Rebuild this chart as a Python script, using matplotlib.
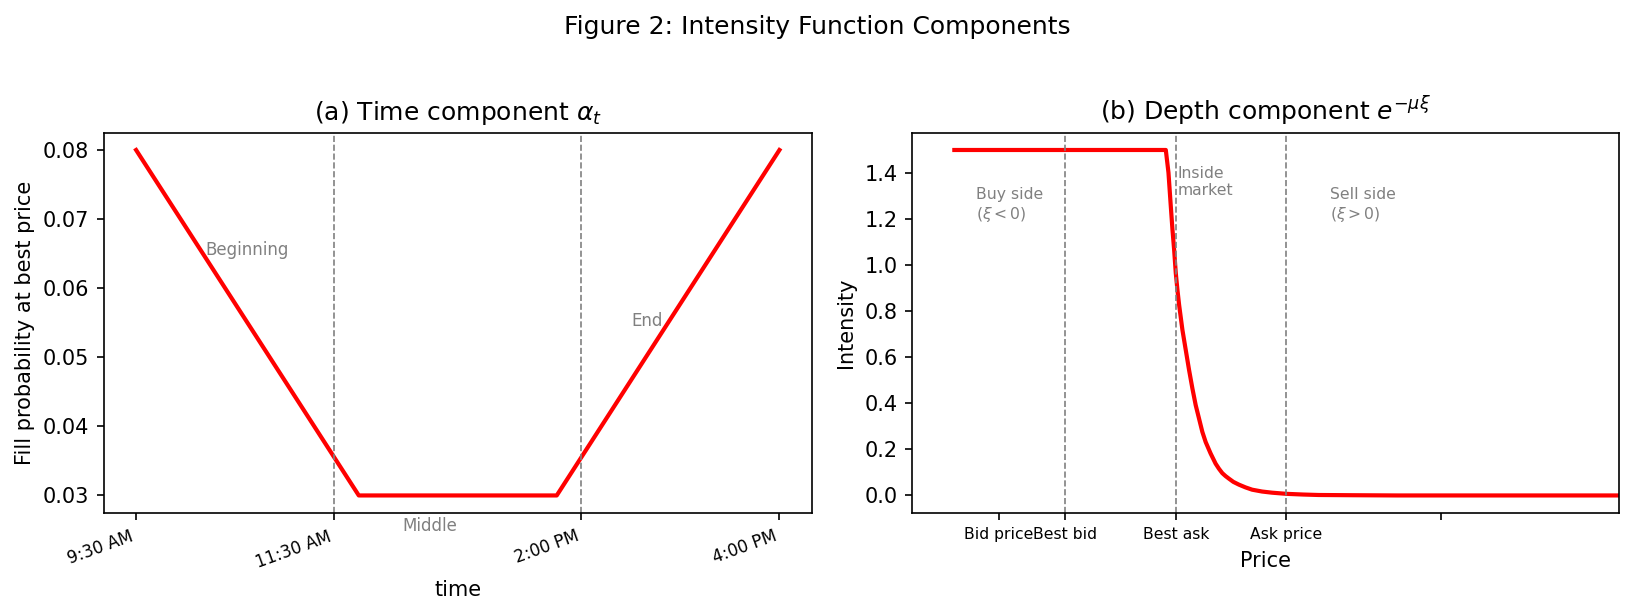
import matplotlib.pyplot as plt

# (a) time component, hours of the trading day
time_h = [9.5, 11.75, 13.75, 16.0]
alpha = [0.08, 0.03, 0.03, 0.08]
time_ticks = [9.5, 11.5, 14.0, 16.0]
time_labels = ["9:30 AM", "11:30 AM", "2:00 PM", "4:00 PM"]
time_splits = [11.5, 14.0]

# (b) depth component, price offset from best ask
price = [-2.0, -0.09, -0.066, -0.045, -0.03, -0.015, 0.0, 0.015, 0.03, 0.06, 0.09,
         0.12, 0.15, 0.18, 0.21, 0.24, 0.27, 0.315, 0.36, 0.39, 0.42, 0.45, 0.48, 0.52,
         0.57, 0.63, 0.69, 0.78, 0.87, 1.0, 1.15, 1.29, 1.6, 2.0, 4.0]
intensity = [1.5, 1.5, 1.402, 1.256, 1.155, 1.068, 0.966, 0.893, 0.828, 0.719, 0.632,
             0.545, 0.465, 0.392, 0.334, 0.276, 0.232, 0.182, 0.138, 0.116, 0.097, 0.084,
             0.073, 0.059, 0.047, 0.035, 0.025, 0.017, 0.012, 0.007, 0.004, 0.002,
             0.001, 0.0, 0.0]
price_ticks = [-1.6, -1.0, 0.0, 1.0, 2.4]
price_labels = ["Bid price", "Best bid", "Best ask", "Ask price", ""]
price_splits = [-1.0, 0.0, 1.0]

fig = plt.figure(figsize=(1634 / 150, 615 / 150), dpi=150)
fig.suptitle("Figure 2: Intensity Function Components", y=0.975)

ax1 = fig.add_axes([0.0636, 0.1663, 0.4331, 0.6179])
ax1.plot(time_h, alpha, color="red", lw=2)
for t in time_splits:
    ax1.axvline(t, color="gray", ls="--", lw=0.8)
ax1.text(10.2, 0.0655, "Beginning", color="gray", fontsize=8, va="center")
ax1.text(12.47, 0.0256, "Middle", color="gray", fontsize=8, va="center", ha="center")
ax1.text(14.5, 0.0553, "End", color="gray", fontsize=8, va="center")
ax1.set_xticks(time_ticks)
ax1.set_xticklabels(time_labels, rotation=20, ha="right", fontsize=8)
ax1.set_xlabel("time")
ax1.set_ylabel("Fill probability at best price")
ax1.set_title(r"(a) Time component $\alpha_t$")

ax2 = fig.add_axes([0.5583, 0.1663, 0.4323, 0.6179])
ax2.plot(price, intensity, color="red", lw=2)
for p in price_splits:
    ax2.axvline(p, color="gray", ls="--", lw=0.8)
ax2.text(-1.8, 1.26, "Buy side\n" + r"($\xi < 0$)", color="gray", fontsize=7.5, va="center")
ax2.text(0.02, 1.36, "Inside\nmarket", color="gray", fontsize=7.5, va="center")
ax2.text(1.39, 1.26, "Sell side\n" + r"($\xi > 0$)", color="gray", fontsize=7.5, va="center")
ax2.set_xlim(-2.38, 4.0)
ax2.set_xticks(price_ticks)
ax2.set_xticklabels(price_labels, fontsize=7.5)
ax2.set_xlabel("Price")
ax2.set_ylabel("Intensity")
ax2.set_title(r"(b) Depth component $e^{-\mu\xi}$")

fig.savefig("out.png", dpi=150)
